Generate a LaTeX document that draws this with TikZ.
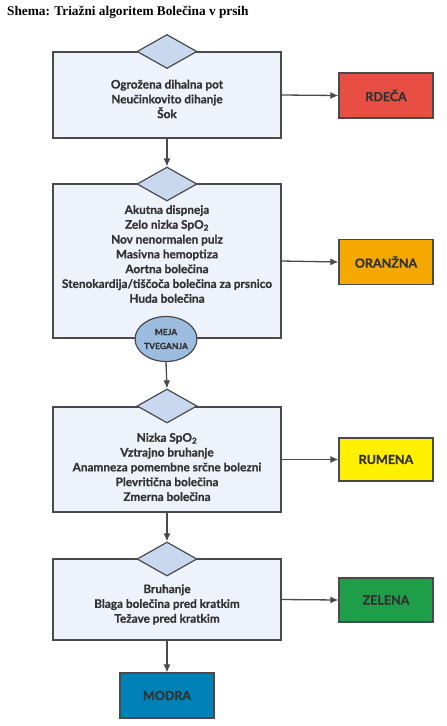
\documentclass[tikz,border=0pt]{standalone}
\usepackage{fontspec}
\setmainfont{Liberation Serif}
\setsansfont{Lato}[BoldFont={Lato Bold},BoldFeatures={FakeBold=0.8}]
\usetikzlibrary{arrows.meta,shapes.geometric}
\definecolor{boxfill}{HTML}{EEF2FA}
\definecolor{diafill}{HTML}{C8D9EF}
\definecolor{ringfill}{HTML}{9CBCE0}
\definecolor{linegray}{HTML}{4A4A4A}
\definecolor{txtgray}{HTML}{333333}
\definecolor{triagered}{HTML}{E84E43}
\definecolor{triageorange}{HTML}{F5A800}
\definecolor{triageyellow}{HTML}{FFF000}
\definecolor{triagegreen}{HTML}{1E9E48}
\definecolor{triageblue}{HTML}{0082B8}
\tikzset{
  stagebox/.style={draw=linegray,line width=1.2pt,fill=boxfill,minimum width=228pt,inner sep=0pt},
  checkdia/.style={diamond,draw=linegray,line width=1.2pt,fill=diafill,minimum width=60pt,minimum height=34pt,inner sep=0pt},
  levelbox/.style={draw=linegray,line width=1.2pt,minimum width=94pt,minimum height=45pt,inner sep=0pt,
                   font=\sffamily\bfseries\fontsize{12.5}{13}\selectfont,text=txtgray},
  symptoms/.style={align=center,font=\sffamily\bfseries\fontsize{11.8}{14.8}\selectfont,text=txtgray,inner sep=0pt},
  flow/.style={draw=linegray,line width=1.3pt,-{Latex[length=8pt,width=7pt]}}
}
\begin{document}
\begin{tikzpicture}[x=1pt,y=-1pt]
   \useasboundingbox (0,0) rectangle (447,726);
   \node[anchor=base west,inner sep=0pt,font=\bfseries\fontsize{13.3}{15}\selectfont] (title) at (7,15) {Shema: Triažni algoritem Bolečina v prsih};
   % stage 1
   \node[stagebox,minimum height=86pt] (stageA) at (167,95) {};
   \node[checkdia] (diaA) at (167,51.5) {};
   \node[symptoms] (textA) at (167,99) {Ogrožena dihalna pot\\Neučinkovito dihanje\\Šok};
   \node[levelbox,fill=triagered] (red) at (386,95.5) {RDEČA};
   % stage 2
   \node[stagebox,minimum height=154pt] (stageB) at (167,261) {};
   \node[checkdia] (diaB) at (167,184) {};
   \node[symptoms] (textB) at (167,254) {Akutna dispneja\\Zelo nizka SpO\textsubscript{2}\\Nov nenormalen pulz\\Masivna hemoptiza\\Aortna bolečina\\Stenokardija/tiščoča bolečina za prsnico\\Huda bolečina};
   \node[ellipse,draw=linegray,line width=1.2pt,fill=ringfill,minimum width=58pt,minimum height=45pt,inner sep=0pt,
         align=center,font=\sffamily\bfseries\fontsize{8.5}{14}\selectfont,text=txtgray] (risk) at (166,339) {MEJA\\TVEGANJA};
   \node[levelbox,fill=triageorange] (orange) at (386,262) {ORANŽNA};
   % stage 3
   \node[stagebox,minimum height=105pt] (stageC) at (167,459.5) {};
   \node[checkdia] (diaC) at (167,406) {};
   \node[symptoms] (textC) at (167,467) {Nizka SpO\textsubscript{2}\\Vztrajno bruhanje\\Anamneza pomembne srčne bolezni\\Plevritična bolečina\\Zmerna bolečina};
   \node[levelbox,fill=triageyellow,minimum height=43pt] (yellow) at (386,459.5) {RUMENA};
   % stage 4
   \node[stagebox,minimum height=81pt] (stageD) at (167,599.5) {};
   \node[checkdia] (diaD) at (167,559) {};
   \node[symptoms] (textD) at (167,604.5) {Bruhanje\\Blaga bolečina pred kratkim\\Težave pred kratkim};
   \node[levelbox,fill=triagegreen,minimum height=44pt] (green) at (386,600) {ZELENA};
   \node[levelbox,fill=triageblue] (blue) at (167,695.5) {MODRA};
   % connectors
   \draw[flow] (stageA.east) -- (red.west);
   \draw[flow] (stageB.east) -- (orange.west);
   \draw[flow] (stageC.east) -- (yellow.west);
   \draw[flow] (stageD.east) -- (green.west);
   \draw[flow] (stageA.south) -- (diaB.north);
   \draw[flow] (risk.south) -- (diaC.north);
   \draw[flow] (stageC.south) -- (diaD.north);
   \draw[flow] (stageD.south) -- (blue.north);
\end{tikzpicture}
\end{document}
